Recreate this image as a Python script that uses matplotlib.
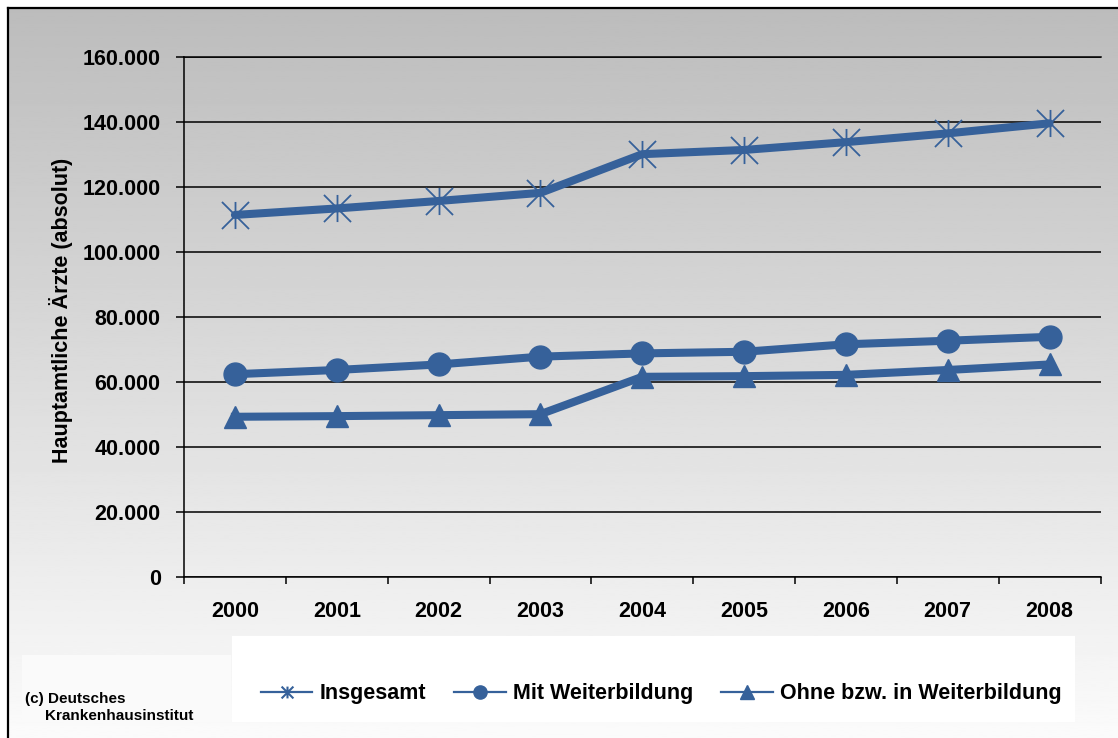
import numpy as np
import matplotlib
matplotlib.use("Agg")
import matplotlib.pyplot as plt
from matplotlib.path import Path
from matplotlib.lines import Line2D
from matplotlib.patches import Rectangle
from matplotlib.ticker import FuncFormatter

# --- data -------------------------------------------------------------
years = ["2000", "2001", "2002", "2003", "2004", "2005", "2006", "2007", "2008"]
insgesamt = [111400, 113400, 115700, 118200, 130100, 131400, 133800, 136500, 139600]
mit_weiterbildung = [62400, 63700, 65400, 67800, 68800, 69300, 71600, 72700, 73900]
ohne_weiterbildung = [49300, 49500, 49800, 50100, 61600, 61800, 62200, 63700, 65400]
series_names = ["Insgesamt", "Mit Weiterbildung", "Ohne bzw. in Weiterbildung"]
y_ticks = [0, 20000, 40000, 60000, 80000, 100000, 120000, 140000, 160000]
y_label = "Hauptamtliche Ärzte (absolut)"
source_lines = ["(c) Deutsches", "Krankenhausinstitut"]

# --- styling ----------------------------------------------------------
W, H = 1118, 738
BLUE = "#36619a"
plt.rcParams["font.family"] = ["Liberation Sans", "DejaVu Sans"]
plt.rcParams["font.weight"] = "bold"


def fx(x):
    return x / W


def fy(y):
    return 1 - y / H


# asterisk marker: vertical bar plus two diagonals
star = Path([(0, -1), (0, 1), (-1, -1), (1, 1), (-1, 1), (1, -1)],
            [Path.MOVETO, Path.LINETO] * 3)

fig = plt.figure(figsize=(W / 100, H / 100), dpi=100)

# grey-to-white vertical gradient behind the chart
bg = fig.add_axes([fx(8), 0, 1 - fx(8), fy(8)], zorder=-10)
grad = np.linspace(0xbc, 0xfb, 400)[:, None] / 255.0
bg.imshow(grad, cmap="gray", vmin=0, vmax=1, aspect="auto",
          extent=[0, 1, 0, 1], origin="upper")
bg.set_axis_off()

# outer frame (left and top edge)
fig.add_artist(Line2D([fx(8), fx(8)], [0, fy(8)], color="black", lw=1.6))
fig.add_artist(Line2D([fx(8), 1], [fy(8), fy(8)], color="black", lw=1.6))

# legend panel and source panel
fig.add_artist(Rectangle((fx(232), fy(722)), fx(1075) - fx(232), (722 - 636) / H,
                         transform=fig.transFigure, facecolor="white",
                         edgecolor="none", zorder=-5))
fig.add_artist(Rectangle((fx(22), fy(722)), fx(231) - fx(22), (722 - 655) / H,
                         transform=fig.transFigure, facecolor="#fafafa",
                         edgecolor="none", zorder=-5))

# --- plot area ----------------------------------------------------------
ax = fig.add_axes([fx(184), fy(577), (1100.5 - 184) / W, (577 - 57) / H])
ax.set_facecolor("none")

xpos = np.arange(len(years)) + 0.5
ax.plot(xpos, insgesamt, color=BLUE, lw=5.8, marker=star, ms=19.5,
        mfc="none", mec=BLUE, mew=1.3, zorder=3, solid_capstyle="round")
ax.plot(xpos, mit_weiterbildung, color=BLUE, lw=5.8, marker="o", ms=16.5,
        mfc=BLUE, mec=BLUE, zorder=3)
ax.plot(xpos, ohne_weiterbildung, color=BLUE, lw=5.8, marker="^", ms=16.5,
        mfc=BLUE, mec=BLUE, zorder=3)

ax.set_xlim(0, len(years))
ax.set_ylim(y_ticks[0], y_ticks[-1])

# category boundaries carry the tick marks, labels sit at the centres
ax.set_xticks(np.arange(len(years) + 1))
ax.set_xticklabels([])
ax.set_xticks(xpos, minor=True)
ax.set_xticklabels(years, minor=True)
ax.tick_params(axis="x", which="major", direction="out", length=5, width=1.1,
               color="black")
ax.tick_params(axis="x", which="minor", length=0, pad=17.5, labelsize=15.5)

ax.set_yticks(y_ticks)
ax.yaxis.set_major_formatter(FuncFormatter(lambda v, p: f"{int(v):,}".replace(",", ".")))
ax.tick_params(axis="y", direction="out", length=5.8, width=1.1, pad=11,
               labelsize=15.5, color="black")

ax.yaxis.grid(True, color="black", lw=1.1)
ax.set_axisbelow(True)
for side in ["left", "bottom", "top"]:
    ax.spines[side].set_color("black")
    ax.spines[side].set_linewidth(1.1)
ax.spines["right"].set_visible(False)

fig.text(fx(61), fy(310), y_label, rotation=90, ha="center", va="center",
         fontsize=15.5, fontweight="bold")

# --- legend -------------------------------------------------------------
handles = [
    Line2D([], [], color=BLUE, lw=1.6, marker=star, ms=8.5, mfc="none", mew=1.5),
    Line2D([], [], color=BLUE, lw=1.6, marker="o", ms=9.5),
    Line2D([], [], color=BLUE, lw=1.6, marker="^", ms=9.5),
]
fig.legend(handles, series_names, loc="center", bbox_to_anchor=(fx(661), fy(694)),
           ncol=3, frameon=False, fontsize=15.5, handlelength=2.4,
           handletextpad=0.33, columnspacing=1.3)

# --- source note --------------------------------------------------------
fig.text(fx(25), fy(703), source_lines[0], fontsize=11, fontweight="bold",
         va="baseline", ha="left")
fig.text(fx(45.5), fy(720), source_lines[1], fontsize=11, fontweight="bold",
         va="baseline", ha="left")

fig.savefig("out.png", dpi=100)
